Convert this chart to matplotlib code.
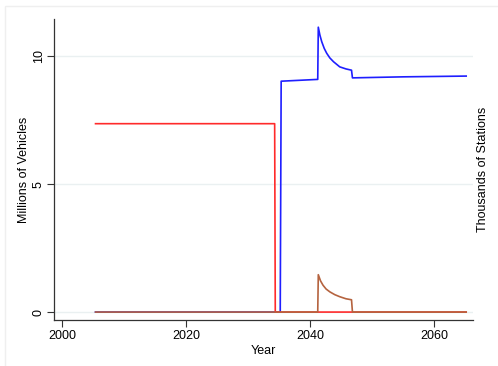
import matplotlib
matplotlib.use("Agg")
import matplotlib.pyplot as plt
from matplotlib.patches import Rectangle

plt.rcParams["font.family"] = ["Liberation Sans", "DejaVu Sans"]
plt.rcParams["font.size"] = 9

# vehicle stock (millions) and stations (thousands) by year
red_years = [2005.4, 2034.3, 2034.4, 2065.2]
red_vals = [7.36, 7.36, 0.0, 0.0]

blue_years = [2005.4, 2035.2, 2035.35, 2041.25, 2041.34, 2041.6, 2041.9,
              2042.3, 2042.7, 2043.2, 2043.8, 2044.8, 2045.8, 2046.7,
              2046.85, 2055.0, 2065.2]
blue_vals = [0.0, 0.0, 9.02, 9.09, 11.13, 10.82, 10.56,
             10.30, 10.11, 9.93, 9.78, 9.58, 9.50, 9.45,
             9.15, 9.19, 9.22]

brown_years = [2005.4, 2041.25, 2041.34, 2041.7, 2042.1, 2042.6, 2043.2,
               2044.0, 2044.8, 2045.8, 2046.7, 2046.85, 2065.2]
brown_vals = [0.0, 0.0, 1.46, 1.22, 1.05, 0.90, 0.79,
              0.68, 0.60, 0.52, 0.48, 0.0, 0.0]

fig = plt.figure(figsize=(4.98, 3.66), dpi=100)
fig.patches.append(Rectangle((5 / 498, -0.05), 1.0, 1 - 6 / 366 + 0.05,
                             transform=fig.transFigure, fill=False,
                             edgecolor="#efefef", linewidth=1.0))

ax = fig.add_axes([54 / 498, 1 - 320 / 366, (473 - 54) / 498, (320 - 19) / 366])

for y in [0, 5, 10]:
    ax.axhline(y, color="#eaf0f1", linewidth=1.0, zorder=0)

ax.plot(blue_years, blue_vals, color="#1f1fff", linewidth=1.2)
ax.plot(red_years, red_vals, color="#ff2b2b", linewidth=1.2)
ax.plot(brown_years, brown_vals, color="#b5633f", linewidth=1.2)

ax.set_xlim(1998.7, 2066.3)
ax.set_ylim(-0.31, 11.45)
ax.set_xticks([2000, 2020, 2040, 2060])
ax.set_yticks([0, 5, 10])
ax.set_yticklabels(["0", "5", "10"], rotation=90, va="center")
ax.tick_params(length=5, width=0.8, color="#333333", pad=2)
ax.tick_params(axis="y", pad=1.5)
for side in ["top", "right"]:
    ax.spines[side].set_visible(False)
for side in ["left", "bottom"]:
    ax.spines[side].set_color("#333333")
    ax.spines[side].set_linewidth(0.9)
ax.set_xlabel("Year", labelpad=2)
ax.set_ylabel("Millions of Vehicles", labelpad=2)

ax2 = ax.twinx()
ax2.set_ylim(ax.get_ylim())
ax2.set_yticks([])
for side in ax2.spines:
    ax2.spines[side].set_visible(False)
ax2.set_ylabel("Thousands of Stations", labelpad=3)

fig.savefig("out.png", dpi=100, facecolor="white")
